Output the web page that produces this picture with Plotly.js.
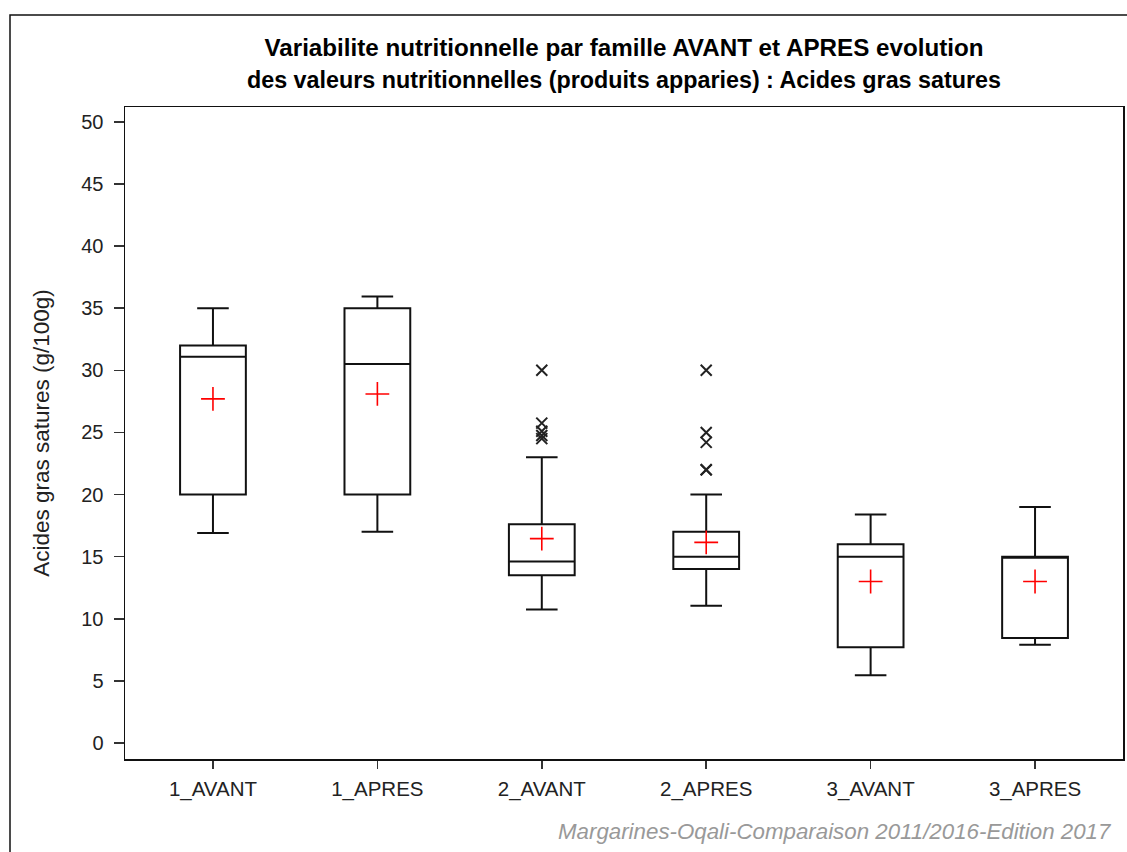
<!DOCTYPE html>
<html>
<head>
<meta charset="utf-8">
<script src="https://cdn.plot.ly/plotly-3.0.1.min.js"></script>
<style>html,body{margin:0;padding:0;background:#fff;}#chart{width:1127px;height:852px;}</style>
</head>
<body>
<div id="chart"></div>
<script>
const categories = ["1_AVANT", "1_APRES", "2_AVANT", "2_APRES", "3_AVANT", "3_APRES"];
const lowerWhisker = [16.9, 17.0, 10.75, 11.05, 5.45, 7.9];
const q1Values = [20.0, 20.0, 13.5, 14.0, 7.7, 8.45];
const medianValues = [31.1, 30.5, 14.6, 15.0, 15.0, 15.0];
const q3Values = [32.0, 35.0, 17.6, 17.0, 16.0, 15.0];
const upperWhisker = [35.0, 35.95, 23.0, 20.0, 18.4, 19.0];
const meanValues = [27.7, 28.1, 16.45, 16.15, 13.0, 13.0];
const outlierCats = ["2_AVANT", "2_AVANT", "2_AVANT", "2_AVANT", "2_AVANT", "2_APRES", "2_APRES", "2_APRES", "2_APRES", "2_APRES"];
const outlierValues = [30.0, 25.75, 25.1, 24.75, 24.5, 30.0, 25.0, 24.2, 22.0, 22.0];

const fontFam = "Liberation Sans, Arial, sans-serif";

const traces = [
  {
    type: "box",
    x: categories,
    q1: q1Values,
    median: medianValues,
    q3: q3Values,
    lowerfence: lowerWhisker,
    upperfence: upperWhisker,
    width: 0.4,
    whiskerwidth: 0.48,
    boxpoints: false,
    fillcolor: "rgba(0,0,0,0)",
    line: {color: "#111", width: 2},
    hoverinfo: "skip",
    showlegend: false
  },
  {
    type: "scatter",
    mode: "markers",
    x: categories,
    y: meanValues,
    marker: {symbol: "cross-thin", size: 17, color: "red", line: {color: "red", width: 1.6}},
    showlegend: false,
    hoverinfo: "y"
  },
  {
    type: "scatter",
    mode: "markers",
    x: outlierCats,
    y: outlierValues,
    marker: {symbol: "x-thin", size: 11, color: "#222", line: {color: "#222", width: 2}},
    showlegend: false,
    hoverinfo: "y"
  }
];

const layout = {
  width: 1127,
  height: 852,
  margin: {l: 125, r: 4, t: 107, b: 93},
  paper_bgcolor: "#fff",
  plot_bgcolor: "#fff",
  font: {family: fontFam, color: "#222"},
  title: {
    text: "<b>Variabilite nutritionnelle par famille AVANT et APRES evolution</b>",
    font: {family: fontFam, size: 24.2, color: "#000"},
    xref: "paper", x: 0.5, xanchor: "center",
    yref: "container", y: 1 - 48 / 852, yanchor: "middle"
  },
  xaxis: {
    type: "category",
    categoryorder: "array",
    categoryarray: categories,
    range: [-0.535, 5.535],
    showline: true, mirror: true, linecolor: "#111", linewidth: 1.5,
    ticks: "outside", ticklen: 8, tickwidth: 1.5, tickcolor: "#333",
    ticklabelstandoff: 3,
    tickfont: {family: fontFam, size: 20.5, color: "#222"},
    showgrid: false, zeroline: false, fixedrange: true
  },
  yaxis: {
    range: [-1.29, 51.2],
    tickmode: "linear", tick0: 0, dtick: 5,
    showline: true, mirror: true, linecolor: "#111", linewidth: 1.5,
    ticks: "outside", ticklen: 10, tickwidth: 1.5, tickcolor: "#333",
    ticklabelstandoff: 6,
    tickfont: {family: fontFam, size: 20, color: "#222"},
    showgrid: false, zeroline: false, fixedrange: true,
    title: {text: "Acides gras satures (g/100g)", font: {family: fontFam, size: 22.5, color: "#222"}, standoff: 25}
  },
  annotations: [
    {
      text: "<b>des valeurs nutritionnelles (produits apparies) : Acides gras satures</b>",
      xref: "paper", yref: "paper",
      x: 0.5, xanchor: "center",
      y: 1 + (107 - 80) / 652, yanchor: "middle",
      showarrow: false,
      font: {family: fontFam, size: 23.3, color: "#000"}
    },
    {
      text: "<i>Margarines-Oqali-Comparaison 2011/2016-Edition 2017</i>",
      xref: "paper", yref: "paper",
      x: (1114 - 125) / 998, xanchor: "right",
      y: (759 - 831) / 652, yanchor: "middle",
      showarrow: false,
      font: {family: fontFam, size: 22.3, color: "#999"}
    }
  ],
  shapes: [
    {
      type: "path",
      xref: "paper", yref: "paper",
      path: "M " + ((10 - 125) / 998) + " " + (-(852 - 759) / 652 - 0.01) +
            " L " + ((10 - 125) / 998) + " " + (1 + (107 - 15) / 652) +
            " L " + ((1130 - 125) / 998) + " " + (1 + (107 - 15) / 652),
      line: {color: "#111", width: 1.5}
    }
  ]
};

Plotly.newPlot("chart", traces, layout, {displayModeBar: false, staticPlot: true});
</script>
</body>
</html>
